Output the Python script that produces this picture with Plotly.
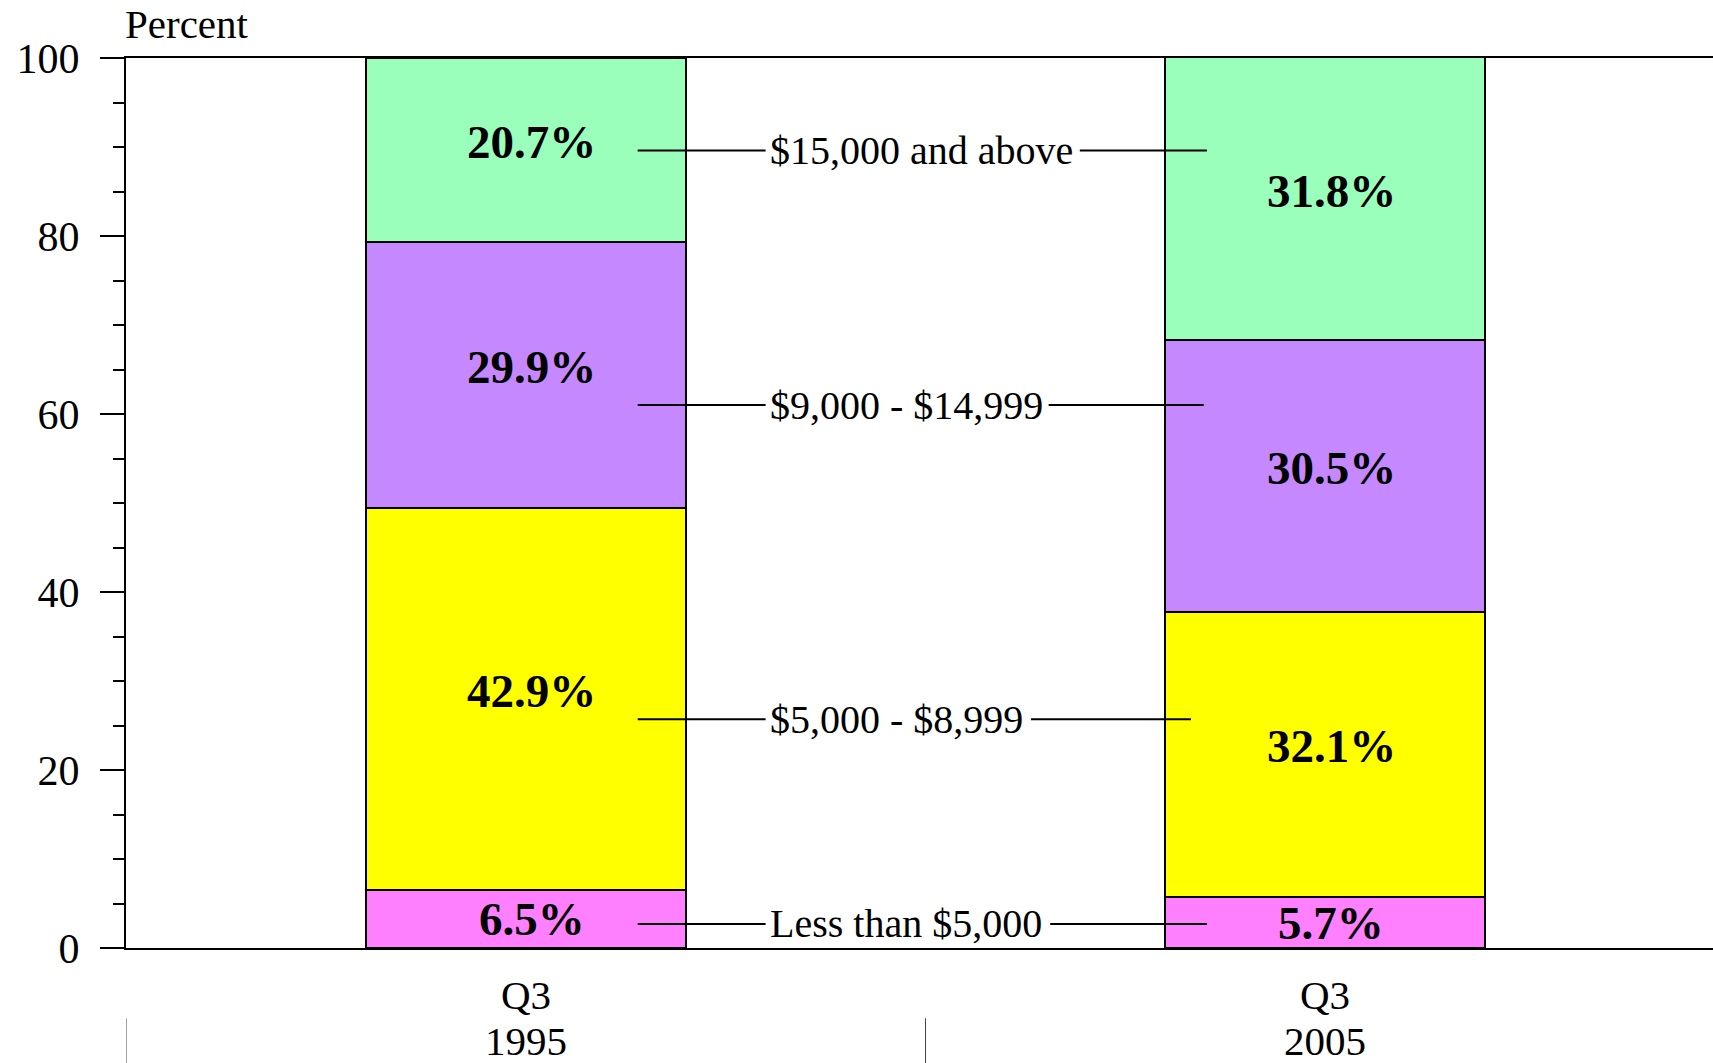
import plotly.graph_objects as go

# ---- data ----
periods = [0, 1]
period_quarter = ["Q3", "Q3"]
period_year = ["1995", "2005"]
bands = ["Less than $5,000", "$5,000 - $8,999", "$9,000 - $14,999", "$15,000 and above"]
share_1995 = [6.5, 42.9, 29.9, 20.7]
share_2005 = [5.7, 32.1, 30.5, 31.8]

# ---- styling / layout ----
band_colors = ["#FF80FF", "#FFFF00", "#C688FF", "#99FFBB"]
band_label_levels = [2.7, 25.7, 61.0, 89.6]
leader_left = (0.14, 0.30)
leader_right_start = [0.656, 0.632, 0.654, 0.693]
leader_right_end = [0.852, 0.832, 0.848, 0.852]
FONT = "Liberation Serif, Times New Roman, serif"

fig = go.Figure()
for i, band in enumerate(bands):
    fig.add_trace(go.Bar(
        x=periods,
        y=[share_1995[i], share_2005[i]],
        name=band,
        width=0.4,
        marker=dict(color=band_colors[i], line=dict(color="black", width=2)),
        hoverinfo="skip",
    ))

annotations = []
shapes = []

# value labels centred in each segment
for p, shares in zip(periods, [share_1995, share_2005]):
    base = 0.0
    for k, v in enumerate(shares):
        annotations.append(dict(
            x=p, y=base + v / 2, xref="x", yref="y", xshift=6, yshift=(0 if k == 0 else 8),
            text="<b>%.1f%%</b>" % v, showarrow=False,
            font=dict(family=FONT, size=47, color="black"),
        ))
        base += v

# band labels with leader lines
for i, (band, lvl) in enumerate(zip(bands, band_label_levels)):
    shapes.append(dict(type="line", xref="x", yref="y", x0=leader_left[0], x1=leader_left[1],
                       y0=lvl, y1=lvl, line=dict(color="black", width=2), layer="above"))
    shapes.append(dict(type="line", xref="x", yref="y", x0=leader_right_start[i], x1=leader_right_end[i],
                       y0=lvl, y1=lvl, line=dict(color="black", width=2), layer="above"))
    annotations.append(dict(
        x=0.303, y=lvl, xref="x", yref="y", xanchor="left", yanchor="middle",
        text=band, showarrow=False,
        font=dict(family=FONT, size=40, color="black"),
    ))

# category labels
for p, q, yr in zip(periods, period_quarter, period_year):
    annotations.append(dict(x=p, y=0, xref="x", yref="paper", yanchor="middle", yshift=-47,
                            text=q, showarrow=False, font=dict(family=FONT, size=41, color="black")))
    annotations.append(dict(x=p, y=0, xref="x", yref="paper", yanchor="middle", yshift=-93,
                            text=yr, showarrow=False, font=dict(family=FONT, size=41, color="black")))

# category separators below the axis
for sx in [-0.5, 0.5]:
    shapes.append(dict(type="line", xref="x", yref="paper", x0=sx, x1=sx, y0=-0.079, y1=-0.135,
                       line=dict(color="#444444", width=1)))

annotations.append(dict(x=-0.002, y=1, xref="paper", yref="paper", xanchor="left", yanchor="middle",
                        yshift=34, text="Percent", showarrow=False,
                        font=dict(family=FONT, size=41, color="black")))

fig.update_layout(
    barmode="stack",
    width=1713, height=1063,
    margin=dict(l=126, r=0, t=58, b=115, pad=0),
    plot_bgcolor="white", paper_bgcolor="white",
    showlegend=False,
    annotations=annotations,
    shapes=shapes,
    xaxis=dict(range=[-0.5, 1.485], showticklabels=False, ticks="", showgrid=False,
               zeroline=False, showline=True, linecolor="black", linewidth=2, mirror=True),
    yaxis=dict(range=[0, 100], tickvals=[0, 20, 40, 60, 80, 100], ticks="outside",
               ticklen=24, tickwidth=2, tickcolor="black", showgrid=False, zeroline=False,
               showline=True, linecolor="black", linewidth=2, ticklabelstandoff=12,
               tickfont=dict(family=FONT, size=42, color="black"),
               minor=dict(dtick=5, ticks="outside", ticklen=11, tickwidth=2, tickcolor="black",
                          showgrid=False)),
)

fig.write_html("out.html", config={"displayModeBar": False},
               post_script="document.body.style.margin='0';document.body.style.overflow='hidden';")
